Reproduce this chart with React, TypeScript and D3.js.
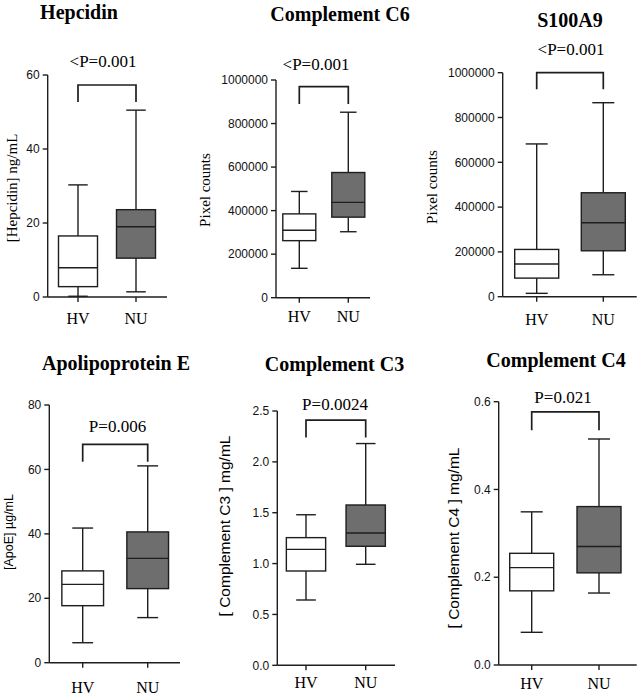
import React from "react";
import * as d3 from "d3";

// ---- data ----
const groups = ["HV", "NU"];
const titles = ["Hepcidin", "Complement C6", "S100A9", "Apolipoprotein E", "Complement C3", "Complement C4"];
const yAxisLabels = ["[Hepcidin] ng/mL", "Pixel counts", "Pixel counts", "[ApoE] µg/mL", "[ Complement C3 ] mg/mL", "[ Complement C4 ] mg/mL"];
const pLabels = ["<P=0.001", "<P=0.001", "<P=0.001", "P=0.006", "P=0.0024", "P=0.021"];

// [min, q1, median, q3, max]
const hepcidinHV = [0.2, 2.8, 7.9, 16.5, 30.3];
const hepcidinNU = [1.4, 10.5, 19, 23.6, 50.5];
const c6HV = [135000, 262000, 310000, 385000, 488000];
const c6NU = [303000, 370000, 438000, 575000, 852000];
const s100a9HV = [15000, 83000, 146000, 211000, 682000];
const s100a9NU = [98000, 205000, 330000, 464000, 866000];
const apoeHV = [6.2, 17.7, 24.3, 28.5, 41.8];
const apoeNU = [14, 23, 32.4, 40.6, 61.1];
const c3HV = [0.642, 0.927, 1.14, 1.255, 1.48];
const c3NU = [0.993, 1.17, 1.3, 1.576, 2.18];
const c4HV = [0.0745, 0.169, 0.222, 0.2545, 0.349];
const c4NU = [0.164, 0.21, 0.27, 0.361, 0.515];

const yTicksHepcidin = [0, 20, 40, 60];
const yTicksC6 = [0, 200000, 400000, 600000, 800000, 1000000];
const yTicksS100A9 = [0, 200000, 400000, 600000, 800000, 1000000];
const yTicksApoE = [0, 20, 40, 60, 80];
const yTicksC3 = [0, 0.5, 1.0, 1.5, 2.0, 2.5];
const yTicksC4 = [0, 0.2, 0.4, 0.6];
const tickFormats = ["d", "d", "d", "d", ".1f", ".1f"];

// bracket [top, legs bottom] in data units
const brackets = [
  [57.3, 52.7],
  [970000, 890000],
  [1000000, 926000],
  [67.8, 62.4],
  [2.41, 2.24],
  [0.577, 0.535],
];

const panelData = [
  [hepcidinHV, hepcidinNU],
  [c6HV, c6NU],
  [s100a9HV, s100a9NU],
  [apoeHV, apoeNU],
  [c3HV, c3NU],
  [c4HV, c4NU],
];
const panelTicks = [yTicksHepcidin, yTicksC6, yTicksS100A9, yTicksApoE, yTicksC3, yTicksC4];

// ---- layout (pixels) ----
type Layout = {
  axisX: number; yTop: number; y0: number; xEnd: number; hvX: number; nuX: number; boxW: number;
  titleX: number; titleY: number; pX: number; pY: number; labX: number; labY: number;
  labSize: number; labSerif: boolean; xLabY: number;
};
const layouts: Layout[] = [
  { axisX: 47.7, yTop: 75, y0: 297, xEnd: 167, hvX: 78, nuX: 136, boxW: 39, titleX: 79, titleY: 18.5, pX: 103, pY: 67, labX: 12, labY: 188, labSize: 15, labSerif: true, xLabY: 324 },
  { axisX: 276, yTop: 80, y0: 297.7, xEnd: 370, hvX: 299.3, nuX: 348.3, boxW: 33, titleX: 340, titleY: 20.5, pX: 316, pY: 70, labX: 205, labY: 190, labSize: 15, labSerif: true, xLabY: 322 },
  { axisX: 502.7, yTop: 72.7, y0: 296.7, xEnd: 636.7, hvX: 536.7, nuX: 603.3, boxW: 44, titleX: 570, titleY: 26.7, pX: 571, pY: 55, labX: 431.7, labY: 187, labSize: 15, labSerif: true, xLabY: 325 },
  { axisX: 49.3, yTop: 405, y0: 662.7, xEnd: 180, hvX: 82.7, nuX: 147.7, boxW: 41.7, titleX: 116, titleY: 370, pX: 117.5, pY: 431.7, labX: 9, labY: 532, labSize: 12.5, labSerif: false, xLabY: 693 },
  { axisX: 277.3, yTop: 411, y0: 665.3, xEnd: 395, hvX: 306, nuX: 365.7, boxW: 39.3, titleX: 334.5, titleY: 371, pX: 335, pY: 410, labX: 225, labY: 526, labSize: 15.5, labSerif: false, xLabY: 688 },
  { axisX: 498.7, yTop: 401.7, y0: 665, xEnd: 636.7, hvX: 531.7, nuX: 599, boxW: 44, titleX: 556, titleY: 367.3, pX: 563, pY: 403, labX: 453.3, labY: 538, labSize: 15.5, labSerif: false, xLabY: 689 },
];

const INK = "#1e1e1e";
const FILLS = ["#ffffff", "#6e6e6e"];
const SERIF = "'Liberation Serif', 'Times New Roman', serif";
const SANS = "'Liberation Sans', Arial, sans-serif";
const SW = 1.4;

function Panel({ i }: { i: number }) {
  const L = layouts[i];
  const ticks = panelTicks[i];
  const y = d3.scaleLinear().domain([0, ticks[ticks.length - 1]]).range([L.y0, L.yTop]);
  const x = d3.scalePoint<string>().domain(groups).range([L.hvX, L.nuX]);
  const fmt = d3.format(tickFormats[i]);
  const [bTop, bLeg] = brackets[i];
  const xHV = x("HV")!;
  const xNU = x("NU")!;
  return (
    <g>
      <text x={L.titleX} y={L.titleY} textAnchor="middle" fontFamily={SERIF} fontWeight="bold" fontSize={20} fill="#000">
        {titles[i]}
      </text>
      {/* y axis */}
      <line x1={L.axisX} x2={L.axisX} y1={y(0)} y2={y(ticks[ticks.length - 1])} stroke={INK} strokeWidth={SW} />
      {ticks.map((t) => (
        <g key={t}>
          <line x1={L.axisX - 5} x2={L.axisX} y1={y(t)} y2={y(t)} stroke={INK} strokeWidth={SW} />
          <text x={L.axisX - 8} y={y(t)} dy="0.35em" textAnchor="end" fontFamily={SANS} fontSize={12} fill="#111">
            {fmt(t)}
          </text>
        </g>
      ))}
      {/* x axis */}
      <line x1={L.axisX} x2={L.xEnd} y1={L.y0} y2={L.y0} stroke={INK} strokeWidth={SW} />
      {groups.map((g) => (
        <g key={g}>
          <line x1={x(g)!} x2={x(g)!} y1={L.y0} y2={L.y0 + 5} stroke={INK} strokeWidth={SW} />
          <text x={x(g)!} y={L.xLabY} textAnchor="middle" fontFamily={SERIF} fontSize={16} fill="#000">
            {g}
          </text>
        </g>
      ))}
      {/* y label */}
      <text
        transform={`translate(${L.labX},${L.labY}) rotate(-90)`}
        dy="0.35em"
        textAnchor="middle"
        fontFamily={L.labSerif ? SERIF : SANS}
        fontSize={L.labSize}
        fill="#000"
      >
        {yAxisLabels[i]}
      </text>
      {/* boxes */}
      {groups.map((g, gi) => {
        const [mn, q1, md, q3, mx] = panelData[i][gi];
        const cx = x(g)!;
        const w = L.boxW;
        return (
          <g key={g}>
            <line x1={cx} x2={cx} y1={y(q3)} y2={y(mx)} stroke={INK} strokeWidth={SW} />
            <line x1={cx} x2={cx} y1={y(q1)} y2={y(mn)} stroke={INK} strokeWidth={SW} />
            <line x1={cx - w / 4} x2={cx + w / 4} y1={y(mx)} y2={y(mx)} stroke={INK} strokeWidth={SW} />
            <line x1={cx - w / 4} x2={cx + w / 4} y1={y(mn)} y2={y(mn)} stroke={INK} strokeWidth={SW} />
            <rect x={cx - w / 2} y={y(q3)} width={w} height={y(q1) - y(q3)} fill={FILLS[gi]} stroke={INK} strokeWidth={SW} />
            <line x1={cx - w / 2} x2={cx + w / 2} y1={y(md)} y2={y(md)} stroke={INK} strokeWidth={SW} />
          </g>
        );
      })}
      {/* significance bracket */}
      <path
        d={`M${xHV},${y(bLeg)}V${y(bTop)}H${xNU}V${y(bLeg)}`}
        fill="none"
        stroke={INK}
        strokeWidth={SW + 0.3}
      />
      <text x={L.pX} y={L.pY} textAnchor="middle" fontFamily={SERIF} fontSize={17} fill="#000">
        {pLabels[i]}
      </text>
    </g>
  );
}

export default function App() {
  return (
    <svg
      width={638}
      height={700}
      viewBox="0 0 638 700"
      style={{ position: "absolute", left: 0, top: 0, background: "#fff" }}
    >
      <rect width={638} height={700} fill="#fff" />
      {titles.map((_, i) => (
        <Panel key={i} i={i} />
      ))}
    </svg>
  );
}
